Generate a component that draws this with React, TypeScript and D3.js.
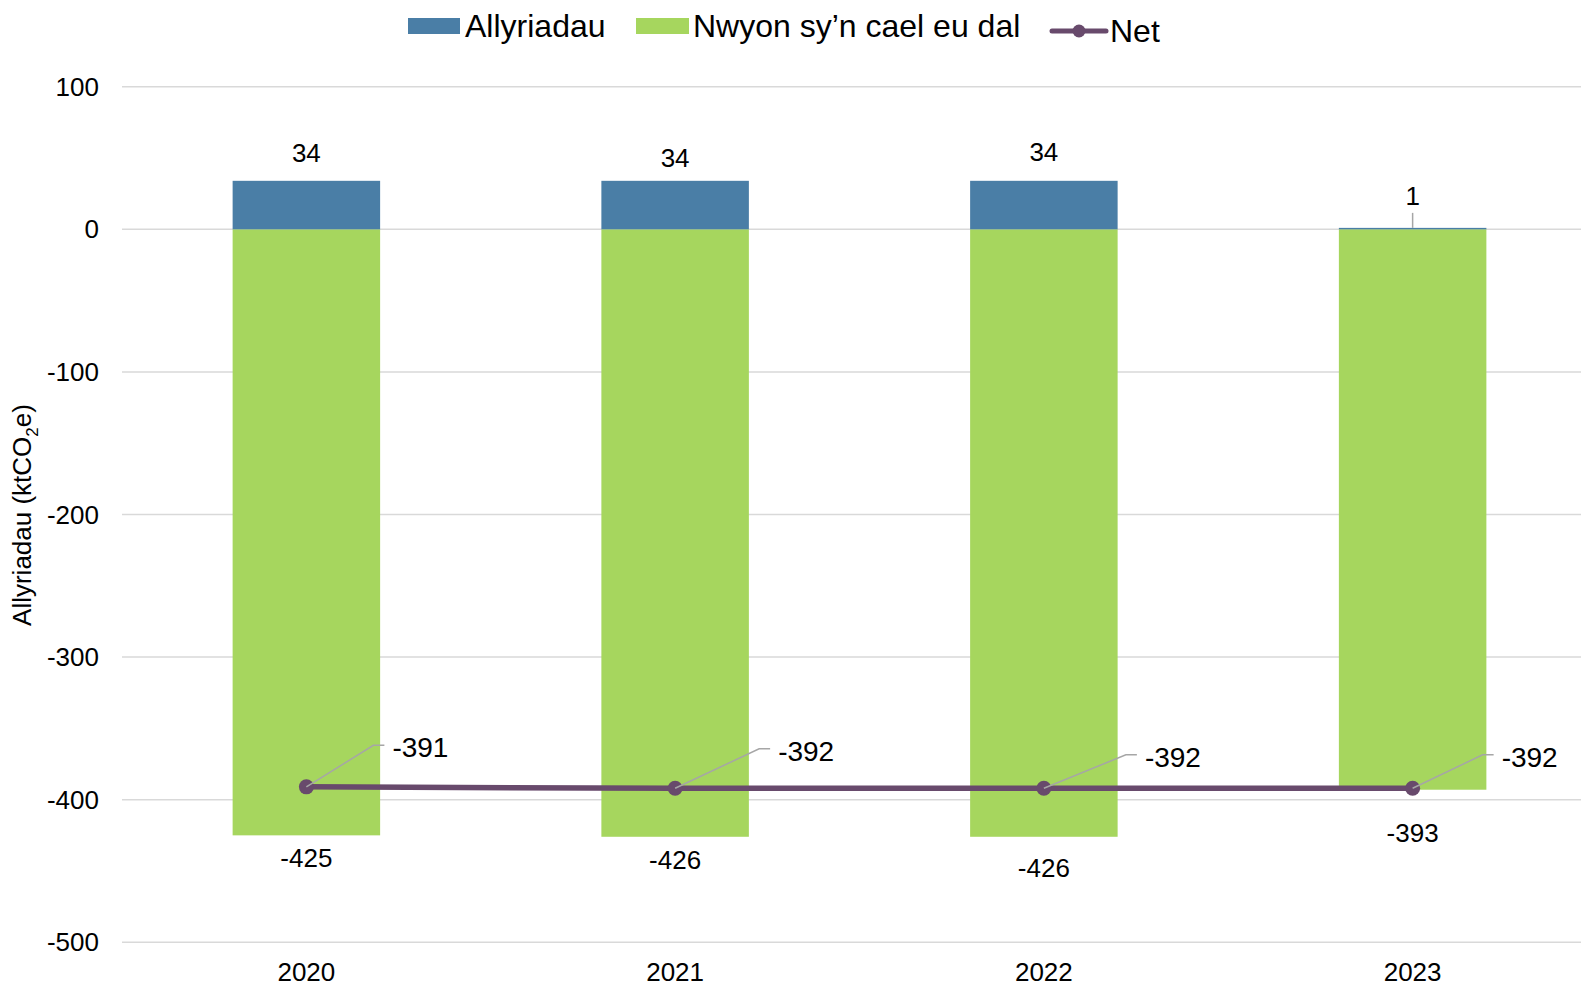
import React from "react";
import * as d3 from "d3";

const years = ["2020", "2021", "2022", "2023"];
const emissions = [34, 34, 34, 1];
const captured = [-425, -426, -426, -393];
const net = [-391, -392, -392, -392];
const yTicks = [100, 0, -100, -200, -300, -400, -500];

// label placement nudges (pixels)
const emissionLabelDy = [-27.5, -22.5, -28.5, -32];
const capturedLabelDy = [23, 23, 31, 43];
const netLabelDx = [86, 103, 101, 89];
const netLabelDy = [-39, -37, -31, -31];

const W = 1581;
const H = 985;
const FONT = "'Liberation Sans', Arial, Helvetica, sans-serif";
const BLUE = "#4A7EA6";
const GREEN = "#A6D65E";
const PURPLE = "#684A6C";
const GRID = "#D9D9D9";
const LEADER = "#A6A6A6";

export default function App() {
  const x = d3
    .scaleBand<string>()
    .domain(years)
    .range([122, 1597])
    .paddingInner(0.6)
    .paddingOuter(0.3);
  const y = d3.scaleLinear().domain([-500, 100]).range([942.3, 86.7]);
  const cx = (i: number) => (x(years[i]) as number) + x.bandwidth() / 2;

  const line = d3
    .line<number>()
    .x((_, i) => cx(i))
    .y((d) => y(d));

  return (
    <svg
      width={W}
      height={H}
      style={{ position: "absolute", left: 0, top: 0, background: "#fff" }}
      fontFamily={FONT}
    >
      <rect x={0} y={0} width={W} height={H} fill="#fff" />
      {/* gridlines */}
      {yTicks.map((t) => (
        <g key={t}>
          <line x1={122} x2={W} y1={y(t)} y2={y(t)} stroke={GRID} strokeWidth={1.5} />
          <text
            x={99}
            y={y(t)}
            textAnchor="end"
            dominantBaseline="central"
            fontSize={26}
            fill="#000"
          >
            {t}
          </text>
        </g>
      ))}

      {/* y axis title */}
      <text
        transform={`translate(31, 515) rotate(-90)`}
        textAnchor="middle"
        fontSize={26}
        fill="#000"
      >
        Allyriadau (ktCO
        <tspan fontSize={17} dy={7}>
          2
        </tspan>
        <tspan dy={-7}>e)</tspan>
      </text>

      {/* bars */}
      {years.map((yr, i) => (
        <g key={yr}>
          <rect
            x={x(yr)}
            width={x.bandwidth()}
            y={y(0)}
            height={y(captured[i]) - y(0)}
            fill={GREEN}
          />
          <rect
            x={x(yr)}
            width={x.bandwidth()}
            y={y(emissions[i])}
            height={y(0) - y(emissions[i])}
            fill={BLUE}
          />
        </g>
      ))}

      {/* category labels */}
      {years.map((yr, i) => (
        <text
          key={yr}
          x={cx(i)}
          y={981}
          textAnchor="middle"
          fontSize={26}
          fill="#000"
        >
          {yr}
        </text>
      ))}

      {/* emission labels */}
      {years.map((yr, i) => {
        const top = y(emissions[i]);
        const ly = top + emissionLabelDy[i];
        return (
          <g key={yr}>
            {emissions[i] < 5 && (
              <line
                x1={cx(i)}
                x2={cx(i)}
                y1={ly + 17}
                y2={top}
                stroke={LEADER}
                strokeWidth={1.5}
              />
            )}
            <text
              x={cx(i)}
              y={ly}
              textAnchor="middle"
              dominantBaseline="central"
              fontSize={26}
              fill="#000"
            >
              {emissions[i]}
            </text>
          </g>
        );
      })}

      {/* captured labels */}
      {years.map((yr, i) => (
        <text
          key={yr}
          x={cx(i)}
          y={y(captured[i]) + capturedLabelDy[i]}
          textAnchor="middle"
          dominantBaseline="central"
          fontSize={26}
          fill="#000"
        >
          {captured[i]}
        </text>
      ))}

      {/* net line */}
      <path d={line(net) || ""} fill="none" stroke={PURPLE} strokeWidth={5.5} />
      {net.map((v, i) => (
        <circle key={i} cx={cx(i)} cy={y(v)} r={7.5} fill={PURPLE} />
      ))}

      {/* net labels with leaders */}
      {net.map((v, i) => {
        const px = cx(i);
        const py = y(v);
        const tx = px + netLabelDx[i];
        const ty = py + netLabelDy[i];
        return (
          <g key={i}>
            <polyline
              points={`${px},${py} ${tx - 19},${ty - 2.5} ${tx - 8},${ty - 2.5}`}
              fill="none"
              stroke={LEADER}
              strokeWidth={1.5}
            />
            <text
              x={tx}
              y={ty}
              dominantBaseline="central"
              fontSize={28}
              fill="#000"
            >
              {v}
            </text>
          </g>
        );
      })}

      {/* legend */}
      <rect x={408} y={18} width={52} height={16} fill={BLUE} />
      <text x={465} y={36.5} fontSize={32} fill="#000">
        Allyriadau
      </text>
      <rect x={636} y={18} width={53} height={16} fill={GREEN} />
      <text x={693} y={36.5} fontSize={32} fill="#000">
        Nwyon sy’n cael eu dal
      </text>
      <line x1={1052} x2={1106} y1={31} y2={31} stroke={PURPLE} strokeWidth={5} strokeLinecap="round" />
      <circle cx={1079} cy={31} r={6.5} fill={PURPLE} />
      <text x={1110} y={41.5} fontSize={32} fill="#000">
        Net
      </text>
    </svg>
  );
}
